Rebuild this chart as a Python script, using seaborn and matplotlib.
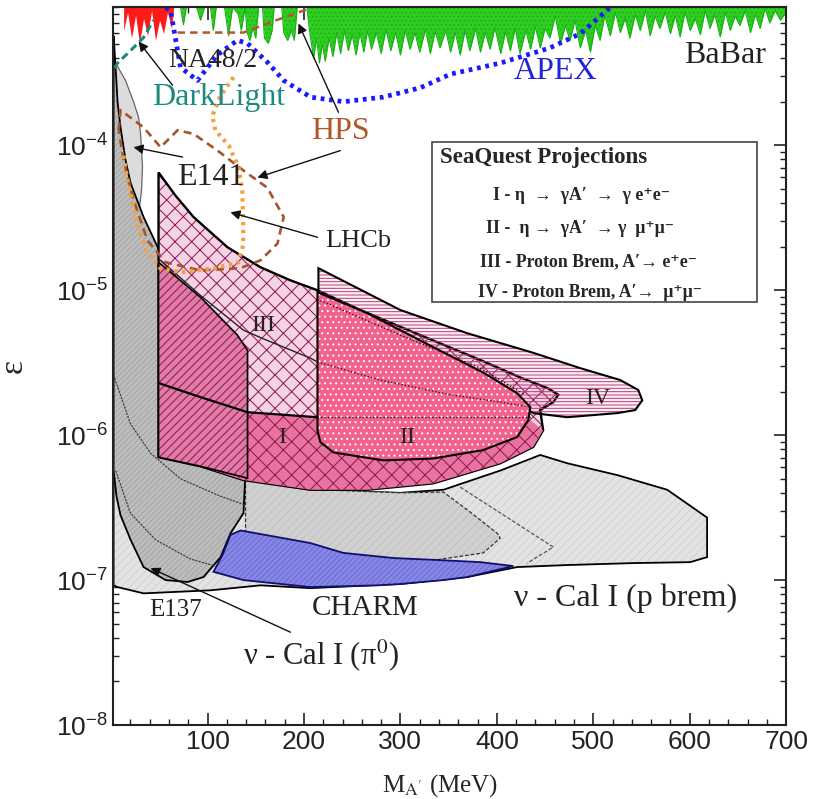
import numpy as np
import matplotlib
matplotlib.use('Agg')
import matplotlib.pyplot as plt
import seaborn as sns
from matplotlib.patches import Polygon, Rectangle
from matplotlib.ticker import MultipleLocator

sns.set_theme(style='ticks')
plt.rcParams['font.family'] = ['Liberation Sans', 'DejaVu Sans']
plt.rcParams['mathtext.fontset'] = 'custom'
plt.rcParams['mathtext.rm'] = 'Liberation Sans'
plt.rcParams['mathtext.it'] = 'Liberation Sans:italic'
plt.rcParams['mathtext.bf'] = 'Liberation Sans:bold'
plt.rcParams['hatch.linewidth'] = 0.7
SERIF = ['Liberation Serif', 'DejaVu Serif']

# ---- data: mass in MeV, epsilon ----
babar_m = [66.8, 72, 75, 78, 88.6, 92.7, 97, 103, 106, 109, 117.6, 121.8, 126, 132, 135,
           139, 141, 144, 147, 150, 153, 157, 159, 163, 167, 169, 177, 179, 183, 187, 190,
           193, 203, 206, 210, 213, 216, 219, 222, 226, 230, 234, 238, 242, 246, 250, 254,
           258, 262, 266, 270, 275, 280, 285, 290, 295, 300, 305, 310, 315, 320, 326, 331,
           336, 341, 347, 352, 357, 362, 367, 372, 378, 383, 388, 393, 398, 404, 409, 414,
           419, 424, 430, 435,
           440, 445, 450, 455, 460.6, 466, 471, 476, 481, 486.5, 492, 497, 502, 507, 512,
           517.6, 523, 528, 533, 538, 543.5, 548.7, 554, 559, 564, 569, 574.6, 580, 585, 590,
           595, 600.5, 605.7, 611, 616, 621, 626, 631.6, 637, 642, 647, 652, 657.5, 663, 668,
           673, 678, 683, 688.6, 694, 700]
babar_eps = [9.0e-4, 9.0e-4, 6.8e-4, 9.0e-4, 9.0e-4, 7.3e-4, 9.0e-4, 9.0e-4, 6.2e-4, 9.0e-4,
             9.0e-4, 5.7e-4, 9.0e-4, 8.0e-4, 6.2e-4,
             9.0e-4, 6.0e-4, 5.3e-4, 6.5e-4, 5.5e-4, 9.0e-4, 9.0e-4, 5.5e-4, 5.05e-4, 6.2e-4,
             9.0e-4, 9.0e-4, 6.0e-4, 5.3e-4, 6.2e-4, 5.3e-4,
             9.0e-4, 9.0e-4, 6.0e-4, 4.0e-4, 5.5e-4, 3.7e-4, 5.0e-4, 3.8e-4, 5.5e-4, 4.1e-4,
             6.0e-4, 4.3e-4, 6.2e-4, 4.5e-4, 5.8e-4, 4.2e-4,
             6.0e-4, 4.4e-4, 6.2e-4, 4.6e-4, 6.0e-4, 4.3e-4, 6.3e-4, 4.5e-4, 6.0e-4, 4.2e-4,
             6.2e-4, 4.6e-4, 6.0e-4, 4.4e-4, 6.3e-4, 4.3e-4,
             6.1e-4, 4.7e-4, 6.2e-4, 4.4e-4, 6.0e-4, 4.2e-4, 6.2e-4, 4.5e-4, 6.4e-4, 4.4e-4,
             6.0e-4, 4.6e-4, 6.5e-4, 4.3e-4, 6.1e-4, 4.5e-4,
             6.4e-4, 4.3e-4, 6.2e-4, 4.6e-4,
             6.6e-4, 4.7e-4, 6.4e-4, 5.5e-4, 7.8e-4, 5.0e-4, 6.7e-4, 5.3e-4, 7.3e-4, 4.7e-4,
             6.2e-4, 4.4e-4, 6.7e-4, 5.3e-4, 7.9e-4,
             5.7e-4, 8.3e-4, 6.0e-4, 7.5e-4, 5.5e-4, 8.0e-4, 6.2e-4, 8.5e-4, 5.7e-4, 7.8e-4,
             6.4e-4, 8.3e-4, 5.9e-4, 7.9e-4, 5.6e-4,
             8.3e-4, 6.2e-4, 7.5e-4, 5.8e-4, 8.5e-4, 6.4e-4, 8.0e-4, 5.6e-4, 8.3e-4, 6.2e-4,
             7.8e-4, 6.7e-4, 8.5e-4, 6.0e-4, 8.0e-4,
             6.4e-4, 8.8e-4, 7.0e-4, 8.5e-4, 7.3e-4, 8.3e-4]

na48_m = [13, 17.1, 21.2, 25.4, 29.5, 33.7, 37.8, 42, 46, 50.3, 54.4, 58.5, 62.7, 64.8]
na48_eps = [6.2e-4, 8.3e-4, 5.5e-4, 7.9e-4, 5.05e-4, 7.5e-4, 5.7e-4, 8.5e-4, 5.3e-4, 7.3e-4,
            5.9e-4, 8.3e-4, 6.4e-4, 8.8e-4]

darklight_m = [3.6, 6.7, 20.2, 33.7, 44]
darklight_eps = [3.4e-4, 3.7e-4, 4.5e-4, 5.55e-4, 7.3e-4]

apex_m = [56.5, 61.7, 72, 89.6, 110, 131, 141.5, 162, 179, 207, 241, 282, 321, 352,
          404, 455, 486.5, 517.6]
apex_eps = [8.95e-4, 8.5e-4, 3.45e-4, 2.8e-4, 4.2e-4, 5.3e-4, 5.05e-4, 3.75e-4, 2.8e-4,
            2.15e-4, 2.0e-4, 2.15e-4, 2.5e-4, 3.1e-4, 3.7e-4, 4.7e-4, 5.9e-4, 8.95e-4]

hps_top_m = [68.9, 100, 137.3, 165, 199.5, 207]
hps_top_eps = [6.0e-4, 6.0e-4, 6.0e-4, 7.05e-4, 8.5e-4, 8.95e-4]
hps_m = [7.8, 9.8, 33.7, 51.3, 68.9, 85.5, 110.4, 137.3, 162, 179, 172.5, 155, 134, 92.7,
         56.5, 37.8, 23.3, 13, 7.8]
hps_eps = [1.27e-4, 1.75e-4, 1.33e-4, 9.7e-5, 1.27e-4, 1.2e-4, 9.2e-5, 6.7e-5, 5.1e-5, 3.2e-5,
           2.1e-5, 1.61e-5, 1.42e-5, 1.37e-5, 1.56e-5, 2.2e-5, 4.2e-5, 7.9e-5, 1.27e-4]

lhcb_m = [127, 113.5, 105, 108, 122, 132, 136, 137, 137, 132, 108, 72, 51, 36, 25, 17, 12]
lhcb_eps = [2.95e-4, 2.2e-4, 1.6e-4, 1.27e-4, 1.0e-4, 7.1e-5, 4.9e-5, 3.05e-5, 2.05e-5,
            1.56e-5, 1.42e-5, 1.33e-5, 1.42e-5, 1.9e-5, 3.3e-5, 5.7e-5, 9.2e-5]

e141_m = [2.6, 4.7, 15, 23.3, 28.5, 30.6, 32.6, 31.6, 28.5, 25.4, 2.6]
e141_eps = [4.2e-4, 3.7e-4, 2.8e-4, 2.0e-4, 1.56e-4, 1.2e-4, 7.1e-5, 4.9e-5, 3.3e-5, 2.8e-5, 2.8e-5]

e137_m = [2.6, 3.6, 4.7, 6.7, 9.8, 15, 20.2, 33.7, 51.3, 92.7, 131, 137.3, 139.4, 139.4, 137.3,
          123.8, 113.5, 95.9, 79.3, 56.5, 33.7, 20.2, 9.8, 5.7, 2.6]
e137_eps = [5.7e-4, 4.5e-4, 3.45e-4, 2.0e-4, 1.33e-4, 7.9e-5, 5.5e-5, 3.2e-5, 1.8e-5, 8.5e-6,
            4.5e-6, 3.7e-6, 1.74e-6, 5.7e-7, 2.9e-7, 2.1e-7, 1.44e-7, 1.05e-7, 9.7e-8, 1.0e-7,
            1.23e-7, 1.9e-7, 2.8e-7, 3.75e-7, 5.7e-7]

pbrem_m = [2.6, 49.2, 137.3, 206.7, 300, 344.6, 403.6, 445, 473, 525, 576.7, 618, 618, 600.5,
           541.5, 473, 421, 369.4, 300, 206.7, 155, 103, 33.7, 6.7, 2.6]
pbrem_eps = [9.2e-7, 6.9e-7, 4.9e-7, 4.2e-7, 4.0e-7, 4.2e-7, 5.7e-7, 7.3e-7, 6.4e-7, 5.3e-7,
             4.2e-7, 2.7e-7, 1.44e-7, 1.33e-7, 1.31e-7, 1.27e-7, 1.23e-7, 1.05e-7, 9.4e-8,
             8.8e-8, 9.2e-8, 8.5e-8, 8.1e-8, 8.95e-8, 9.2e-8]

pi0_m = [139.4, 217, 300, 344.6, 372.5, 400.5, 403.6, 386, 334, 279, 139.4]
pi0_eps = [4.9e-7, 4.2e-7, 4.0e-7, 4.05e-7, 2.94e-7, 2.1e-7, 1.95e-7, 1.54e-7, 1.37e-7,
           1.37e-7, 1.74e-7]

chevron_m = [362, 458.5, 431.6]
chevron_eps = [4.38e-7, 1.69e-7, 1.31e-7]

charm_m = [106.2, 115.5, 123.8, 134.2, 172.5, 206.7, 240.9, 292.7, 344.6, 383, 417, 369.4,
           344.6, 300, 276.2, 206.7, 137.3]
charm_eps = [1.14e-7, 1.49e-7, 2.05e-7, 2.2e-7, 1.98e-7, 1.8e-7, 1.54e-7, 1.42e-7, 1.37e-7,
             1.33e-7, 1.25e-7, 1.05e-7, 1.0e-7, 9.4e-8, 9.2e-8, 8.95e-8, 1.0e-7]

# SeaQuest projections
sq3_m = [49.2, 66.8, 85.5, 120.7, 155, 186, 214, 258.5, 320.7, 383, 424.4, 453.4, 463.7, 458.5,
         445, 448, 437.8, 403.6, 334, 265.8, 206.7, 137.3, 92.7, 49.2]
sq3_eps = [6.5e-5, 4.5e-5, 3.2e-5, 1.98e-5, 1.44e-5, 1.17e-5, 1.0e-5, 7.3e-6, 4.9e-6, 3.3e-6,
           2.5e-6, 2.1e-6, 1.9e-6, 1.69e-6, 1.49e-6, 1.08e-6, 8.3e-7, 6.4e-7, 4.65e-7, 4.2e-7,
           4.2e-7, 4.9e-7, 6.1e-7, 7.05e-7]
sq1_m = [49.2, 92.7, 141.5, 214, 351.8, 434.7, 448, 437.8, 403.6, 334, 265.8, 206.7, 137.3,
         92.7, 49.2]
sq1_eps = [2.29e-6, 1.83e-6, 1.44e-6, 1.33e-6, 1.27e-6, 1.27e-6, 1.08e-6, 8.3e-7, 6.4e-7,
           4.65e-7, 4.2e-7, 4.2e-7, 4.9e-7, 6.1e-7, 7.05e-7]
sq1b_m = [49.2, 92.7, 131, 141.5, 141.5, 92.7, 49.2]
sq1b_eps = [1.56e-5, 8.95e-6, 4.9e-6, 3.85e-6, 5.05e-7, 6.1e-7, 7.05e-7]
sq2_m = [214, 265.8, 334, 386, 421, 434.7, 432.6, 421, 386, 334, 282.4, 230.6, 217, 214]
sq2_eps = [9.7e-6, 6.94e-6, 4.05e-6, 2.7e-6, 1.95e-6, 1.56e-6, 1.27e-6, 9.7e-7, 7.9e-7,
           6.9e-7, 6.7e-7, 7.6e-7, 8.95e-7, 1.08e-6]
sq4_m = [215, 300, 369.4, 437.8, 486.5, 528, 546.6, 550.8, 543.5, 525, 473, 437.8, 424.4,
         351.8, 279.3, 227.5, 215]
sq4_eps = [1.42e-5, 7.3e-6, 5.05e-6, 3.7e-6, 2.9e-6, 2.4e-6, 2.05e-6, 1.74e-6, 1.49e-6,
           1.42e-6, 1.33e-6, 1.42e-6, 1.61e-6, 2.2e-6, 3.55e-6, 6.7e-6, 9.2e-6]
line3_m = [51.3, 92.7, 137.3, 157, 206.7, 214]
line3_eps = [1.61e-5, 9.2e-6, 5.3e-6, 4.65e-6, 3.4e-6, 3.2e-6]
line1_m = [49.2, 92.7, 141.5, 214]
line1_eps = [2.29e-6, 1.83e-6, 1.44e-6, 1.33e-6]
dot3_m = [214, 279, 352, 404, 435]
dot3_eps = [3.2e-6, 2.4e-6, 1.9e-6, 1.69e-6, 1.56e-6]
dot1_m = [214, 435]
dot1_eps = [1.33e-6, 1.33e-6]
dot2_m = [217, 300, 383, 429]
dot2_eps = [8.5e-6, 4.9e-6, 2.9e-6, 1.9e-6]

fig = plt.figure(figsize=(8.13, 7.99), dpi=100)
ax = fig.add_axes([0.139, 0.0926, 0.828, 0.8986])
ax.set_yscale('log')
ax.set_xlim(2, 700)
ax.set_ylim(1e-8, 9e-4)


def region(xs, ys, face, hatch=None, hcolor=None, edge='black', lw=1.0, ls='-', z=1):
    pts = np.column_stack([xs, ys])
    if face is not None:
        ax.add_patch(Polygon(pts, closed=True, facecolor=face, edgecolor='none', lw=0, zorder=z))
    if hatch:
        ax.add_patch(Polygon(pts, closed=True, facecolor='none', edgecolor=hcolor,
                             hatch=hatch, lw=0, zorder=z + 0.01))
    if edge:
        ax.add_patch(Polygon(pts, closed=True, facecolor='none', edgecolor=edge, lw=lw,
                             ls=ls, zorder=z + 0.02))


def curve(xs, ys, color, lw, ls='-', z=7):
    sns.lineplot(x=xs, y=ys, sort=False, estimator=None, color=color, lw=lw,
                 linestyle=ls, ax=ax, zorder=z)


# grey exclusion regions
region(pbrem_m, pbrem_eps, '#e3e3e3', '////', '#d2d2d2', 'black', 1.3, z=1)
region(pi0_m, pi0_eps, '#d0d0d0', '////', '#c2c2c2', '#333333', 0.9, ls=(0, (3, 1.5)), z=1.5)
curve(chevron_m, chevron_eps, '#555555', 0.9, ls=(0, (3, 1.5)), z=1.6)
region(e141_m, e141_eps, '#dcdcdc', None, None, None, z=2)
curve(e141_m[1:10], e141_eps[1:10], '#666666', 0.9, z=2.1)
region(e137_m, e137_eps, '#bdbdbd', '//////', '#a5a5a5', 'black', 1.3, z=2.5)
curve([2.6, 20, 41, 72, 113, 139], [2.6e-6, 1.2e-6, 7.5e-7, 5.0e-7, 3.8e-7, 3.3e-7],
      '#333333', 0.8, ls=(0, (2, 1)), z=2.6)
curve([4.7, 20, 46, 82, 108], [5.7e-7, 2.9e-7, 1.9e-7, 1.4e-7, 1.25e-7],
      '#333333', 0.8, ls=(0, (2, 1)), z=2.6)
region(charm_m, charm_eps, '#8787e8', '//////', '#6a6ad0', '#10106a', 1.3, z=3)

# SeaQuest regions
region(sq4_m, sq4_eps, '#fcf0f6', None, None, None, z=3.8)
region(sq3_m, sq3_eps, '#f5d2e4', 'xx', '#8c1450', 'black', 1.7, z=4)
region(sq1_m, sq1_eps, '#e8739f', 'xx', '#8c1450', None, z=4.2)
region(sq1b_m, sq1b_eps, '#e07aa6', '////', '#8c1450', 'black', 1.2, z=4.4)
region(sq4_m, sq4_eps, None, '-----', '#b83a78', 'black', 1.5, z=4.6)
region(sq2_m, sq2_eps, '#f2628e', '...', 'white', 'black', 1.5, z=4.8)
curve(line3_m, line3_eps, '#222222', 1.0, z=5)
curve(line1_m, line1_eps, 'black', 1.6, z=5)
curve(dot3_m, dot3_eps, '#3a0a20', 1.0, ls=(0, (1, 1.5)), z=5)
curve(dot1_m, dot1_eps, '#3a0a20', 1.0, ls=(0, (1, 1.5)), z=5)
curve(dot2_m, dot2_eps, '#3a0a20', 1.0, ls=(0, (1, 1.5)), z=5)

# top-of-plot limits
ax.fill_between(babar_m, babar_eps, 1e-3, color='#2ecf1e', lw=0, zorder=6)
ax.fill_between(babar_m, babar_eps, 1e-3, facecolor='none', edgecolor='#26a826',
                hatch='....', lw=0, zorder=6.01)
curve(babar_m, babar_eps, '#18b018', 0.8, z=6.02)
ax.fill_between(na48_m, na48_eps, 1e-3, color='#ff1a1a', lw=0, zorder=6.1)

curve(darklight_m, darklight_eps, '#178a7c', 2.2, ls=(0, (2.5, 1.5)))
curve(apex_m, apex_eps, '#1a1aff', 3.4, ls=(0, (0.8, 1.0)))
curve(hps_top_m, hps_top_eps, '#b05a2a', 1.8, ls=(0, (3, 2)))
curve(hps_m, hps_eps, '#a4552c', 1.9, ls=(0, (3, 2)))
curve(lhcb_m, lhcb_eps, '#f5a040', 3.0, ls=(0, (0.8, 1.1)))

# labels
def label(x, y, s, size, color='#222222', **kw):
    ax.text(x, y, s, fontsize=size, color=color, family=SERIF, math_fontfamily='stix',
            ha='center', va='center', zorder=8, **kw)

label(105, 3.85e-4, 'NA48/2', 20)
label(111.4, 2.14e-4, 'DarkLight', 23, color='#1d8a7e')
label(460.6, 3.23e-4, 'APEX', 23, color='#2323d8')
label(636.8, 4.17e-4, 'BaBar', 23)
label(237.8, 1.25e-4, 'HPS', 23, color='#b0562a')
label(103.1, 6.0e-5, 'E141', 23)
label(256.5, 2.18e-5, 'LHCb', 19)
label(158, 5.74e-6, 'III', 17)
label(177.7, 9.7e-7, 'I', 17)
label(307.3, 9.7e-7, 'II', 17)
label(504, 1.8e-6, 'IV', 17)
label(263.7, 6.4e-8, 'CHARM', 21)
label(66.8, 6.2e-8, 'E137', 18)
label(217.1, 3.04e-8, 'ν - Cal I (π$^0$)', 22)
label(533, 7.5e-8, 'ν - Cal I (p brem)', 23)

arrows = [((63.7, 2.6e-4), (28.5, 5.2e-4)),
          ((235.8, 1.69e-4), (194.3, 6.93e-4)),
          ((237.8, 9.2e-5), (151.8, 6.0e-5)),
          ((74.1, 8.3e-5), (23.3, 9.7e-5)),
          ((214, 2.32e-5), (123.8, 3.45e-5)),
          ((186, 4.37e-8), (40.9, 1.21e-7))]
for start, end in arrows:
    ax.annotate('', xy=end, xytext=start, zorder=8,
                arrowprops=dict(arrowstyle='-|>', color='#111111', lw=1.0,
                                mutation_scale=14, shrinkA=0, shrinkB=0))

# SeaQuest legend box
ax.add_patch(Rectangle((0.474, 0.589), 0.483, 0.223, transform=ax.transAxes,
                       facecolor='white', edgecolor='#444444', lw=1.2, zorder=9))
ax.text(0.486, 0.790, 'SeaQuest Projections', transform=ax.transAxes, fontsize=16.5,
        fontweight='bold', family=SERIF, va='center', zorder=10)
legend_lines = ['I - η  →  γA′  →  γ e⁺e⁻',
                'II -  η →  γA′  → γ  μ⁺μ⁻',
                'III - Proton Brem, A′→ e⁺e⁻',
                'IV - Proton Brem, A′→  μ⁺μ⁻']
legend_x = [0.565, 0.554, 0.545, 0.542]
legend_y = [0.737, 0.691, 0.645, 0.603]
for s, lx, ly in zip(legend_lines, legend_x, legend_y):
    ax.text(lx, ly, s, transform=ax.transAxes, fontsize=12.8, fontweight='bold',
            family=SERIF, va='center', zorder=10)

# axes styling
ax.xaxis.set_major_locator(MultipleLocator(100))
ax.xaxis.set_minor_locator(MultipleLocator(20))
ax.tick_params(which='both', direction='in', top=True, right=True, colors='#222222')
ax.tick_params(which='major', length=9, width=1.2, labelsize=19)
ax.tick_params(which='minor', length=4.5, width=1.0)
for sp in ax.spines.values():
    sp.set_linewidth(1.5)
    sp.set_color('#222222')
    sp.set_zorder(11)

ax.set_xlabel(r'M$_{\mathrm{A}^{\prime}}$ (MeV)', fontsize=18, family=SERIF,
              math_fontfamily='stix')
ax.xaxis.set_label_coords(0.486, -0.065)
ax.set_ylabel('ε', fontsize=24, family=SERIF)
ax.yaxis.set_label_coords(-0.125, 0.5)

fig.savefig('out.png', dpi=100)
